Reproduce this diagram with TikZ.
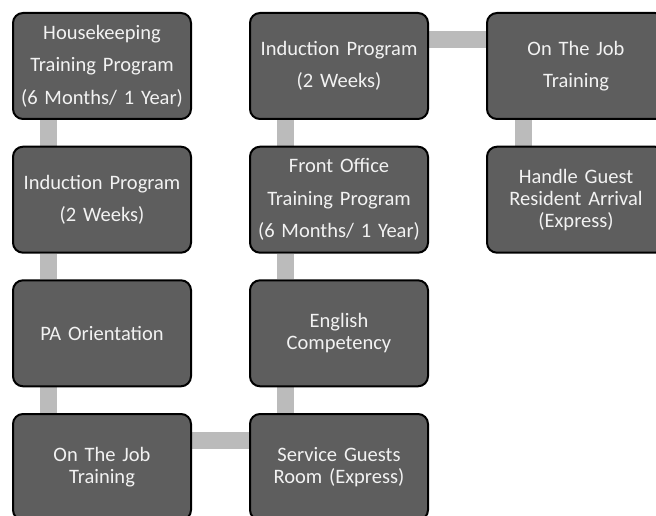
\documentclass[tikz,border=0pt]{standalone}
\usepackage{fontspec}
\setmainfont{Carlito}
\pgfdeclarelayer{background}
\pgfsetlayers{background,main}
\definecolor{boxfill}{HTML}{5E5E5E}
\definecolor{conngray}{HTML}{BBBBBB}
\definecolor{boxtext}{HTML}{F2F2F2}
\begin{document}
\begin{tikzpicture}[x=1pt,y=-1pt,
  stepbox/.style={draw=black, line width=2pt, fill=boxfill, rounded corners=10pt,
    minimum width=178pt, minimum height=106pt, text=boxtext, align=center,
    inner sep=0pt, text width=176pt},
  tight/.style={font=\fontsize{20.5}{22}\selectfont},
  loose/.style={font=\fontsize{20.5}{32.5}\selectfont},
  conn/.style={draw=conngray, line width=17pt}]
\useasboundingbox (0,0) rectangle (656,516);
\clip (0,0) rectangle (656,516);
% column 1
\node[stepbox,loose] (a1) at (102,66) {Housekeeping\\Training Program\\(6 Months/ 1 Year)};
\node[stepbox,loose] (a2) at (102,199.7) {Induction Program\\(2 Weeks)};
\node[stepbox,tight] (a3) at (102,333.3) {PA Orientation};
\node[stepbox,tight] (a4) at (102,467) {On The Job\\Training};
% column 2
\node[stepbox,loose] (b1) at (339,66) {Induction Program\\(2 Weeks)};
\node[stepbox,loose] (b2) at (339,199.7) {Front Office\\Training Program\\(6 Months/ 1 Year)};
\node[stepbox,tight] (b3) at (339,333.3) {English\\Competency};
\node[stepbox,tight] (b4) at (339,467) {Service Guests\\Room (Express)};
% column 3
\node[stepbox,loose] (c1) at (576,66) {On The Job\\Training};
\node[stepbox,tight] (c2) at (576,199.7) {Handle Guest\\Resident Arrival\\(Express)};
\begin{pgfonlayer}{background}
  \draw[conn] ([xshift=36.5pt]a1.south west) -- ([xshift=36.5pt]a2.north west);
  \draw[conn] ([xshift=36.5pt]a2.south west) -- ([xshift=36.5pt]a3.north west);
  \draw[conn] ([xshift=36.5pt]a3.south west) -- ([xshift=36.5pt]a4.north west);
  \draw[conn] ([yshift=-27pt]a4.north east) -- ([yshift=-27pt]b4.north west);
  \draw[conn] ([xshift=36.5pt]b4.north west) -- ([xshift=36.5pt]b3.south west);
  \draw[conn] ([xshift=36.5pt]b3.north west) -- ([xshift=36.5pt]b2.south west);
  \draw[conn] ([xshift=36.5pt]b2.north west) -- ([xshift=36.5pt]b1.south west);
  \draw[conn] ([yshift=-27.5pt]b1.north east) -- ([yshift=-27.5pt]c1.north west);
  \draw[conn] ([xshift=37.5pt]c1.south west) -- ([xshift=37.5pt]c2.north west);
\end{pgfonlayer}
\end{tikzpicture}
\end{document}
